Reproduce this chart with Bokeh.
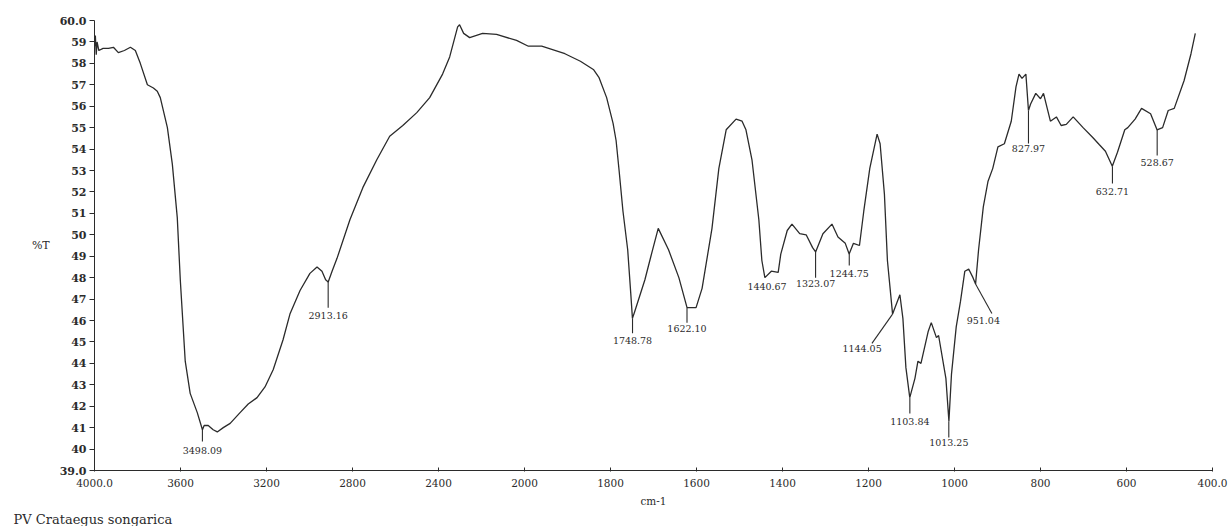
import numpy as np
from bokeh.plotting import figure
from bokeh.models import Range1d, FixedTicker, ColumnDataSource, Title
from bokeh.embed import file_html
from bokeh.resources import INLINE
from bokeh.core.properties import value

# ---- spectrum (wavenumber cm-1, %T) ----
wavenumber = [4000, 3996, 3992, 3988, 3980, 3960, 3935, 3912, 3889, 3861, 3833, 3810,
              3787, 3754, 3726, 3708, 3694, 3661, 3638, 3615, 3601, 3578, 3555, 3522,
              3498, 3490, 3471, 3448, 3429, 3401, 3369, 3323, 3285, 3244, 3207, 3169,
              3123, 3091, 3044, 2998, 2965, 2942, 2925, 2913, 2895, 2872, 2812, 2752,
              2687, 2627, 2566, 2501, 2441, 2381, 2348, 2311, 2302, 2283, 2255, 2195,
              2130, 2037, 1991, 1960, 1906, 1870, 1839, 1827, 1809, 1794, 1787, 1780,
              1771, 1760, 1753, 1749, 1744, 1720, 1706, 1689, 1665, 1641, 1622, 1601,
              1587, 1564, 1548, 1531, 1508, 1494, 1485, 1471, 1455, 1448, 1441, 1426,
              1410, 1404, 1389, 1378, 1360, 1345, 1330, 1323, 1306, 1285, 1271, 1254,
              1245, 1235, 1221, 1211, 1197, 1180, 1173, 1163, 1156, 1144, 1127, 1120,
              1113, 1104, 1092, 1085, 1078, 1061, 1054, 1042, 1037, 1020, 1013, 1007,
              996, 986, 976, 967, 957, 951, 944, 933, 922, 911, 899, 884, 868, 857,
              850, 843, 834, 828, 823, 811, 800, 793, 777, 763, 752, 740, 724, 701,
              679, 663, 649, 633, 621, 604, 597, 580, 565, 544, 529, 516, 503, 489,
              466, 450, 440]
transmittance = [58.8, 59.3, 58.4, 59.0, 58.6, 58.7, 58.7, 58.75, 58.5, 58.6, 58.75, 58.6,
                 58.0, 57.0, 56.85, 56.7, 56.4, 55.0, 53.3, 50.8, 47.9, 44.1, 42.6, 41.7,
                 40.9, 41.1, 41.1, 40.9, 40.8, 41.0, 41.2, 41.7, 42.1, 42.4, 42.9, 43.7,
                 45.1, 46.3, 47.4, 48.2, 48.5, 48.3, 47.9, 47.8, 48.3, 48.9, 50.7, 52.2,
                 53.5, 54.6, 55.1, 55.7, 56.4, 57.5, 58.3, 59.7, 59.8, 59.4, 59.2, 59.4,
                 59.35, 59.07, 58.8, 58.8, 58.45, 58.1, 57.7, 57.35, 56.4, 55.2, 54.4, 53.0,
                 51.1, 49.3, 47.3, 46.1, 46.4, 47.9, 49.0, 50.3, 49.3, 48.0, 46.6, 46.6,
                 47.5, 50.3, 53.1, 54.9, 55.4, 55.3, 54.9, 53.5, 50.7, 48.8, 48.0, 48.3,
                 48.25, 49.1, 50.2, 50.5, 50.05, 50.0, 49.4, 49.2, 50.05, 50.5, 49.9, 49.6,
                 49.1, 49.6, 49.5, 51.1, 53.1, 54.7, 54.25, 51.9, 48.8, 46.3, 47.2, 46.1,
                 43.8, 42.4, 43.3, 44.1, 44.0, 45.5, 45.9, 45.2, 45.3, 43.3, 41.3, 43.5,
                 45.7, 46.9, 48.3, 48.4, 48.0, 47.7, 49.3, 51.3, 52.5, 53.1, 54.1, 54.25, 55.3, 56.9,
                 57.5, 57.3, 57.5, 55.8, 56.1, 56.6, 56.35, 56.6, 55.3, 55.5, 55.1, 55.15, 55.5, 55.0,
                 54.55, 54.2, 53.9, 53.2, 53.85, 54.9, 55.0, 55.4, 55.9, 55.65, 54.9, 55.0, 55.8, 55.9,
                 57.2, 58.45, 59.4]

# ---- axes ----
x_tick_cm = [4000, 3600, 3200, 2800, 2400, 2000, 1800, 1600, 1400, 1200, 1000, 800, 600, 400]
x_tick_labels = ["4000.0", "3600", "3200", "2800", "2400", "2000", "1800", "1600",
                 "1400", "1200", "1000", "800", "600", "400.0"]
y_ticks = list(range(39, 61))
y_tick_overrides = {39: "39.0", 60: "60.0"}

# ---- peak annotations ----
peak_text = ["3498.09", "2913.16", "1748.78", "1622.10", "1440.67", "1323.07", "1244.75",
             "1144.05", "1103.84", "1013.25", "951.04", "827.97", "632.71", "528.67"]
peak_cm = [3498.09, 2913.16, 1748.78, 1622.10, 1440.67, 1323.07, 1244.75,
           1144.05, 1103.84, 1013.25, 951.04, 827.97, 632.71, 528.67]
peak_T = [40.9, 47.8, 46.1, 46.6, 48.0, 49.2, 49.1, 46.3, 42.4, 41.3, 47.7, 55.8, 53.2, 54.9]
stem_end_cm = [3498.09, 2913.16, 1748.78, 1622.10, 1440.67, 1323.07, 1244.75,
               1192, 1103.84, 1013.25, 913, 827.97, 632.71, 528.67]
stem_end_T = [40.35, 46.6, 45.4, 45.9, 48.0, 48.0, 48.57, 44.93, 41.66, 40.54, 46.33,
              54.26, 52.39, 53.7]
label_cm = [3498.09, 2913.16, 1748.78, 1622.10, 1436, 1323.07, 1244.75,
            1215, 1103.84, 1013.25, 933, 827.97, 632.71, 528.67]
label_T = [39.93, 46.23, 45.07, 45.63, 47.59, 47.73, 48.19, 44.69, 41.29, 40.31, 46.0,
           54.03, 52.02, 53.37]


def to_axis(cm):
    """IR chart abscissa: scale doubles below 2000 cm-1."""
    cm = np.asarray(cm, dtype=float)
    return np.where(cm >= 2000, (4000 - cm) / 400.0, 5 + (2000 - cm) / 200.0)


INK = "#2b2b2b"
SERIF = "DejaVu Serif"

p = figure(frame_width=1118, frame_height=450, output_backend="svg", toolbar_location=None,
           x_range=Range1d(0, 13), y_range=Range1d(39, 60),
           min_border_left=94, min_border_right=18, min_border_top=20,
           min_border_bottom=50, background_fill_color="white",
           border_fill_color="white", outline_line_color=None)
p.grid.visible = False

# x axis
x_pos = [int(round(v)) for v in to_axis(x_tick_cm)]
p.xaxis.ticker = FixedTicker(ticks=x_pos)
p.xaxis.major_label_overrides = dict(zip(x_pos, x_tick_labels))
p.xaxis.minor_tick_line_color = None
p.xaxis.major_tick_in = 3
p.xaxis.major_tick_out = 1
p.xaxis.axis_line_color = INK
p.xaxis.major_tick_line_color = INK
p.xaxis.major_label_text_font = SERIF
p.xaxis.major_label_text_font_size = "10.5px"
p.xaxis.major_label_text_color = INK
p.xaxis.major_label_standoff = 7
p.xaxis.axis_label = "cm-1"
p.xaxis.axis_label_text_font = SERIF
p.xaxis.axis_label_text_font_style = "normal"
p.xaxis.axis_label_text_font_size = "10.5px"
p.xaxis.axis_label_text_color = INK
p.xaxis.axis_label_standoff = 5

# y axis
p.yaxis.ticker = FixedTicker(ticks=y_ticks)
p.yaxis.major_label_overrides = y_tick_overrides
p.yaxis.minor_tick_line_color = None
p.yaxis.major_tick_in = 0
p.yaxis.major_tick_out = 5
p.yaxis.axis_line_color = INK
p.yaxis.major_tick_line_color = INK
p.yaxis.major_label_text_font = SERIF
p.yaxis.major_label_text_font_style = "bold"
p.yaxis.major_label_text_font_size = "11px"
p.yaxis.major_label_text_color = INK
p.yaxis.major_label_standoff = 3
p.yaxis.axis_label = "%T"
p.yaxis.axis_label_orientation = "horizontal"
p.yaxis.axis_label_text_font = SERIF
p.yaxis.axis_label_text_font_style = "normal"
p.yaxis.axis_label_text_font_size = "11px"
p.yaxis.axis_label_text_color = INK
p.yaxis.axis_label_standoff = 7

# spectrum
p.line(to_axis(wavenumber), transmittance, line_color=INK, line_width=1.3)

# peak stems and labels
stems = ColumnDataSource(dict(x0=to_axis(peak_cm), y0=peak_T,
                              x1=to_axis(stem_end_cm), y1=stem_end_T))
p.segment("x0", "y0", "x1", "y1", source=stems, line_color=INK, line_width=1.1)
labels = ColumnDataSource(dict(x=to_axis(label_cm), y=label_T, text=peak_text))
p.text("x", "y", "text", source=labels, text_font=value(SERIF), text_font_size="9.5px",
       text_color=INK, text_align="center", text_baseline="middle")

# sample name under the chart
p.add_layout(Title(text="PV Crataegus songarica", align="left", offset=-81, standoff=0,
                   text_font=SERIF, text_font_style="normal", text_font_size="13px",
                   text_color=INK), "below")

open("out.html", "w").write(file_html(p, INLINE))
